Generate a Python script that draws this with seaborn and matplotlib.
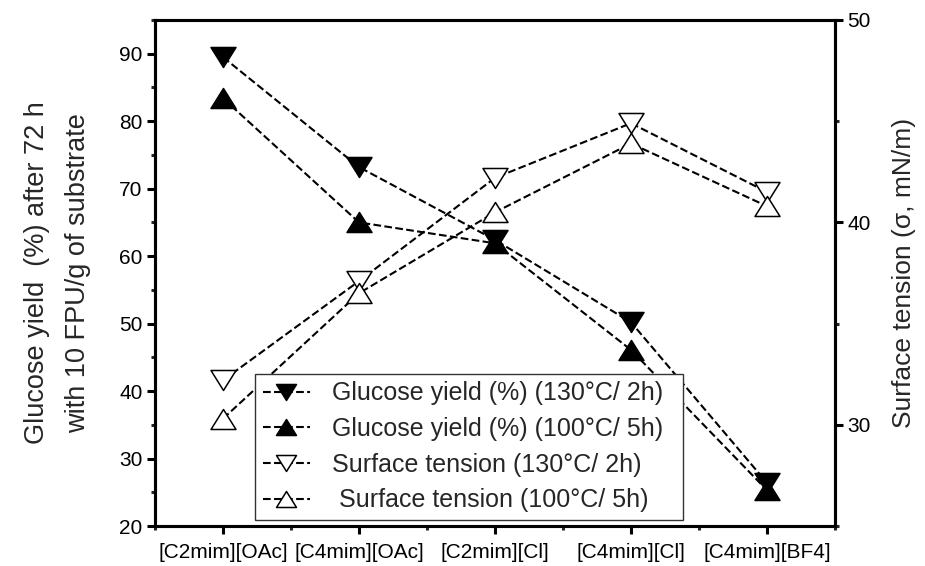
import matplotlib
matplotlib.use("Agg")
import matplotlib.pyplot as plt
from matplotlib.ticker import MultipleLocator
from matplotlib.path import Path
import seaborn as sns
import pandas as pd

categories = ["[C2mim][OAc]", "[C4mim][OAc]", "[C2mim][Cl]", "[C4mim][Cl]", "[C4mim][BF4]"]
glucose_130 = [89.5, 73.2, 62.4, 50.2, 26.4]
glucose_100 = [83.4, 65.0, 61.9, 46.1, 25.3]
tension_130 = [32.2, 37.1, 42.2, 44.9, 41.5]
tension_100 = [30.3, 36.5, 40.5, 43.9, 40.8]

labels = ["Glucose yield (%) (130\u00b0C/ 2h)", "Glucose yield (%) (100\u00b0C/ 5h)",
          "Surface tension (130\u00b0C/ 2h)", " Surface tension (100\u00b0C/ 5h)"]

sns.set_theme(style="ticks")
plt.rcParams["font.family"] = ["Liberation Sans", "DejaVu Sans"]

fig = plt.figure(figsize=(9.25, 5.66), dpi=100)
ax = fig.add_axes([155 / 925, 40 / 566, 680 / 925, 506 / 566])
ax2 = ax.twinx()

xpos = list(range(len(categories)))
down = Path([(-1, 0.8), (1, 0.8), (0, -0.8), (-1, 0.8)],
            [Path.MOVETO, Path.LINETO, Path.LINETO, Path.CLOSEPOLY])
up = Path([(-1, -0.8), (1, -0.8), (0, 0.8), (-1, -0.8)],
          [Path.MOVETO, Path.LINETO, Path.LINETO, Path.CLOSEPOLY])

common = dict(color="black", linestyle="--", dashes=(4, 3), linewidth=1.5,
              markersize=18, markeredgewidth=1.1, markeredgecolor="black")

df_g = pd.DataFrame({"x": xpos, "g130": glucose_130, "g100": glucose_100})
df_t = pd.DataFrame({"x": xpos, "t130": tension_130, "t100": tension_100})

sns.lineplot(data=df_g, x="x", y="g130", ax=ax, marker=down, markerfacecolor="black",
             label=labels[0], **common)
sns.lineplot(data=df_g, x="x", y="g100", ax=ax, marker=up, markerfacecolor="black",
             label=labels[1], **common)
sns.lineplot(data=df_t, x="x", y="t130", ax=ax2, marker=down, markerfacecolor="white",
             label=labels[2], **common)
sns.lineplot(data=df_t, x="x", y="t100", ax=ax2, marker=up, markerfacecolor="white",
             label=labels[3], **common)

ax.set_xlim(-0.5, 4.5)
ax.set_ylim(20, 95)
ax2.set_ylim(25, 50)

ax.set_xticks(xpos)
ax.set_xticklabels(categories, fontsize=15)
ax.xaxis.set_minor_locator(MultipleLocator(0.5))
ax.yaxis.set_major_locator(MultipleLocator(10))
ax.yaxis.set_minor_locator(MultipleLocator(5))
ax2.yaxis.set_major_locator(MultipleLocator(10))
ax2.yaxis.set_minor_locator(MultipleLocator(5))

for a in (ax, ax2):
    for s in a.spines.values():
        s.set_linewidth(2.2)
        s.set_color("black")
    a.tick_params(which="major", direction="out", length=6, width=2.2, labelsize=15,
                  colors="black", pad=3)
    a.tick_params(which="minor", direction="out", length=3, width=2.2)
ax.tick_params(axis="x", which="major", pad=6)
ax.set_xlabel("")
ax.set_ylabel("Glucose yield  (%) after 72 h\nwith 10 FPU/g of substrate", fontsize=19.5,
              linespacing=1.75, labelpad=20)
ax2.set_ylabel("Surface tension (\u03c3, mN/m)", fontsize=19, labelpad=15)

if ax.get_legend():
    ax.get_legend().remove()
if ax2.get_legend():
    ax2.get_legend().remove()
h1, l1 = ax.get_legend_handles_labels()
h2, l2 = ax2.get_legend_handles_labels()
leg = ax2.legend(h1 + h2, l1 + l2, loc="lower left",
                 bbox_to_anchor=(100 / 680, 6 / 506, 428 / 680, 142 / 506), mode="expand",
                 borderaxespad=0, fontsize=18, frameon=True, fancybox=False,
                 edgecolor="#333333", framealpha=1, handlelength=1.88, handletextpad=0.9,
                 labelspacing=0.47, borderpad=0.3, numpoints=1, markerscale=0.8)
leg.get_frame().set_linewidth(1.0)
leg.set_zorder(10)

fig.savefig("out.png", dpi=100)
